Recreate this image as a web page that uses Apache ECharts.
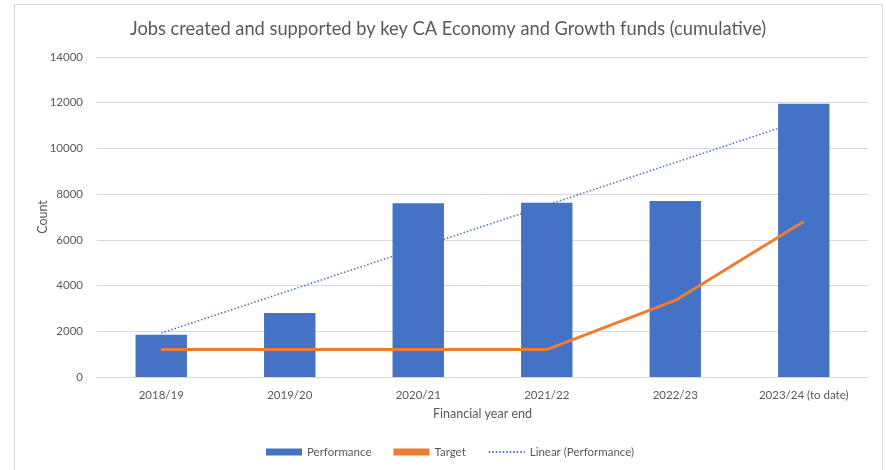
<!DOCTYPE html>
<html>
<head>
<meta charset="utf-8">
<script src="https://cdn.jsdelivr.net/npm/echarts@6/dist/echarts.min.js"></script>
<style>
  html, body { margin: 0; padding: 0; background: #fff; }
  #chart { width: 886px; height: 470px; }
</style>
</head>
<body>
<div id="chart"></div>
<script>
// data
var years = ['2018/19', '2019/20', '2020/21', '2021/22', '2022/23', '2023/24 (to date)'];
var performance = [1850, 2800, 7600, 7620, 7700, 11950];
var target = [1200, 1200, 1200, 1200, 3350, 6800];
// trend line end points (first and last year), the rest left empty
var linearPerf = [1920, null, null, null, null, 11250];
var yTicks = [0, 14000, 2000]; // min, max, step

var textColor = '#595959';
var font = 'Lato';

var myChart = echarts.init(document.getElementById('chart'));

var option = {
  animation: false,
  textStyle: { fontFamily: font },
  graphic: [{
    type: 'rect',
    shape: { x: 14.5, y: 4.5, width: 868, height: 480 },
    style: { fill: 'none', stroke: '#d9d9d9', lineWidth: 1 },
    silent: true
  }],
  title: {
    text: 'Jobs created and supported by key CA Economy and Growth funds (cumulative)',
    left: 125,
    top: 15,
    textStyle: { fontFamily: font, fontSize: 18.3, fontWeight: 'normal', color: textColor }
  },
  legend: {
    bottom: 7,
    left: 261,
    itemGap: 22,
    itemWidth: 36,
    itemHeight: 7,
    textStyle: { fontFamily: font, fontSize: 11.5, color: textColor },
    data: [
      { name: 'Performance', icon: 'rect' },
      { name: 'Target', icon: 'rect' },
      { name: 'Linear (Performance)', itemStyle: { opacity: 0 } }
    ]
  },
  grid: {
    left: 97,
    right: 18,
    top: 57,
    bottom: 93
  },
  xAxis: {
    type: 'category',
    data: years,
    name: 'Financial year end',
    nameLocation: 'middle',
    nameGap: 30,
    nameTextStyle: { fontFamily: font, fontSize: 12.5, color: textColor },
    axisLine: { lineStyle: { color: '#d9d9d9' } },
    axisTick: { show: false },
    axisLabel: { fontFamily: font, fontSize: 11.5, color: textColor, margin: 12 }
  },
  yAxis: {
    type: 'value',
    min: yTicks[0],
    max: yTicks[1],
    interval: yTicks[2],
    name: 'Count',
    nameLocation: 'middle',
    nameGap: 48,
    nameMoveOverlap: false,
    nameTextStyle: { fontFamily: font, fontSize: 12.5, color: textColor },
    axisLine: { show: false },
    axisTick: { show: false },
    axisLabel: {
      fontFamily: font, fontSize: 11.5, color: textColor, margin: 14,
      formatter: function (v) { return String(v); }
    },
    splitLine: { lineStyle: { color: '#d9d9d9' } }
  },
  series: [
    {
      name: 'Linear (Performance)',
      type: 'line',
      data: linearPerf,
      connectNulls: true,
      symbol: 'none',
      z: 1,
      itemStyle: { color: '#4472c4' },
      lineStyle: { color: '#4472c4', width: 1.5, type: [1.5, 2] }
    },
    {
      name: 'Performance',
      type: 'bar',
      data: performance,
      barWidth: '40%',
      z: 2,
      itemStyle: { color: '#4472c4' }
    },
    {
      name: 'Target',
      type: 'line',
      data: target,
      symbol: 'none',
      z: 3,
      itemStyle: { color: '#ed7d31' },
      lineStyle: { color: '#ed7d31', width: 3 }
    }
  ]
};

myChart.setOption(option);
</script>
</body>
</html>
